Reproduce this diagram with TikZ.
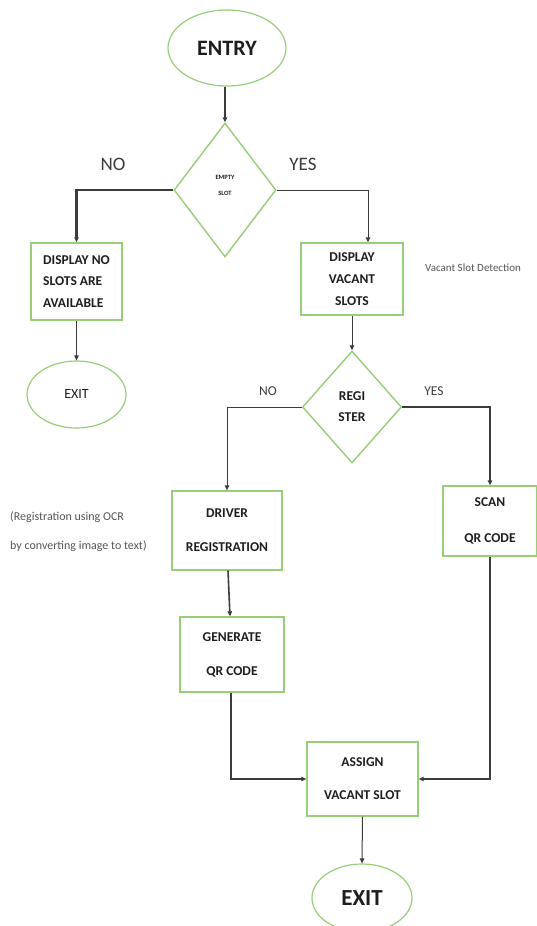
\documentclass[tikz,border=0pt]{standalone}
\usepackage{fontspec}
\setmainfont{Carlito}
\usetikzlibrary{shapes.geometric,arrows.meta}
\definecolor{boxgreen}{RGB}{150,206,122}
\definecolor{ink}{RGB}{30,30,30}
\definecolor{linegray}{RGB}{60,60,60}
\definecolor{notegray}{RGB}{85,85,85}
\tikzset{
  box/.style={draw=boxgreen,line width=1.4pt,rectangle,inner sep=0pt,align=center,text=ink},
  term/.style={draw=boxgreen,line width=1.2pt,ellipse,inner sep=0pt,text=ink},
  decide/.style={draw=boxgreen,line width=1.4pt,diamond,inner sep=0pt,align=center,text=ink},
  conn/.style={draw=linegray,line width=1pt,-{Triangle[length=5pt,width=4.5pt]}},
  heavy/.style={conn,line width=2.2pt},
  lbl/.style={text=linegray,inner sep=0pt},
  boxfont/.style={font=\bfseries\fontsize{13.5}{#1}\selectfont},
}
\begin{document}
\begin{tikzpicture}[x=1pt,y=-1pt]
\useasboundingbox (0,0) rectangle (536,926);
\fill[white] (0,0) rectangle (536,926);

% terminals
\node[term,minimum width=118pt,minimum height=76pt,font=\bfseries\fontsize{22}{24}\selectfont] (entry) at (227,48) {ENTRY};
\node[term,minimum width=99pt,minimum height=67pt,font=\fontsize{14}{16}\selectfont] (exit1) at (76.5,394.5) {EXIT};
\node[term,minimum width=100pt,minimum height=68pt,font=\bfseries\fontsize{23}{25}\selectfont] (exit2) at (362,898) {EXIT};

% decisions
\node[decide,minimum width=102pt,minimum height=134pt] (d1) at (225,190) {};
\node[align=center,text=ink,inner sep=0pt,font=\bfseries\fontsize{6.5}{16}\selectfont] (d1t) at (225,185) {EMPTY\\SLOT};
\node[decide,minimum width=99pt,minimum height=112pt,boxfont=21] (d2) at (352,407) {REGI\\STER};

% process boxes
\node[box,minimum width=91pt,minimum height=77pt,align=left,boxfont=21.5] (b1) at (76.5,281.5) {DISPLAY NO\\SLOTS ARE\\AVAILABLE};
\node[box,minimum width=102pt,minimum height=72pt,boxfont=22] (b2) at (352,279) {DISPLAY\\VACANT\\SLOTS};
\node[box,minimum width=110pt,minimum height=79pt,boxfont=34] (b3) at (227,530.5) {DRIVER\\REGISTRATION};
\node[box,minimum width=94pt,minimum height=70pt,boxfont=36] (scan) at (490,521) {SCAN\\QR CODE};
\node[box,minimum width=104pt,minimum height=75pt,boxfont=34] (gen) at (232,654.5) {GENERATE\\QR CODE};
\node[box,minimum width=111pt,minimum height=74pt,boxfont=33] (assign) at (362.5,779) {ASSIGN\\VACANT SLOT};

% side notes
\node[text=notegray,inner sep=0pt,font=\fontsize{11}{13}\selectfont] (vsd) at (473,268) {Vacant Slot Detection};
\node[text=notegray,inner sep=0pt,anchor=west,align=left,font=\fontsize{12}{29}\selectfont] (ocr) at (10,532) {(Registration using OCR\\by converting image to text)};

% branch labels
\node[lbl,font=\fontsize{19}{21}\selectfont] (no1) at (113,164) {NO};
\node[lbl,font=\fontsize{19}{21}\selectfont] (yes1) at (303,164) {YES};
\node[lbl,font=\fontsize{13.5}{15}\selectfont] (no2) at (268,391) {NO};
\node[lbl,font=\fontsize{13.5}{15}\selectfont] (yes2) at (434,391) {YES};

% connectors
\draw[heavy] (entry.south -| d1.north) -- (d1.north);
\draw[heavy] (d1.west) -| (b1.north);
\draw[conn] (d1.east) -| ([xshift=16pt]b2.north);
\draw[conn] (b1.south) -- (exit1.north);
\draw[conn] (b2.south) -- (d2.north);
\draw[conn] (d2.west) -| (b3.north);
\draw[conn,line width=1.3pt] (d2.east) -| (scan.north);
\draw[conn,line width=1.6pt] ([xshift=1pt]b3.south) -- ([xshift=-2pt]gen.north);
\draw[conn,line width=1.6pt] ([xshift=-1pt]gen.south) |- (assign.west);
\draw[conn,line width=1.3pt] (scan.south) |- (assign.east);
\draw[conn] (assign.south) -- (exit2.north);
\end{tikzpicture}
\end{document}
